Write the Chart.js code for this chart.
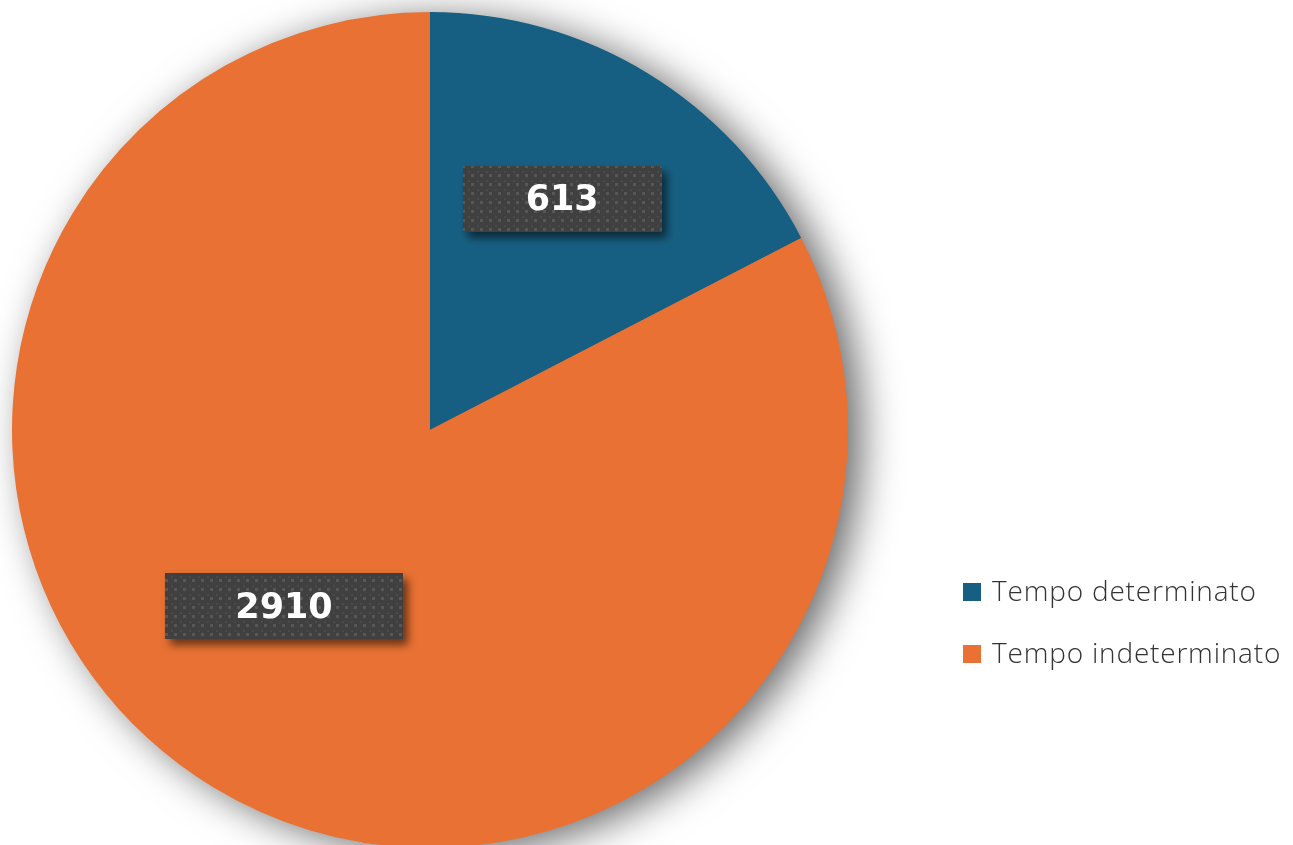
<!DOCTYPE html>
<html>
<head>
<meta charset="utf-8">
<script src="https://cdn.jsdelivr.net/npm/chart.js@4/dist/chart.umd.min.js"></script>
<style>
html,body{margin:0;padding:0;background:#fff;overflow:hidden;}
#wrap{position:absolute;left:0;top:0;width:1293px;height:860px;}
</style>
</head>
<body>
<div id="wrap"><canvas id="c" width="1293" height="860"></canvas></div>
<script>
const categories = ["Tempo determinato", "Tempo indeterminato"];
const values = [613, 2910];
const colors = ["#175f82", "#e87133"];

function makePattern(ctx){
  const p = document.createElement('canvas');
  p.width = 9; p.height = 9;
  const g = p.getContext('2d');
  g.fillStyle = '#404040'; g.fillRect(0,0,9,9);
  g.fillStyle = '#575757'; g.fillRect(3,3,3,3);
  g.fillStyle = '#4a4a4a'; g.fillRect(0,0,2,2);
  return ctx.createPattern(p,'repeat');
}

const pieShadow = {
  id:'pieShadow',
  beforeDatasetsDraw(chart){
    const arc = chart.getDatasetMeta(0).data[0];
    const ctx = chart.ctx;
    ctx.save();
    ctx.shadowColor = 'rgba(0,0,0,0.6)';
    ctx.shadowBlur = 40;
    ctx.shadowOffsetX = 14;
    ctx.shadowOffsetY = 6;
    ctx.fillStyle = '#e87133';
    ctx.beginPath();
    ctx.arc(arc.x, arc.y, arc.outerRadius-1, 0, Math.PI*2);
    ctx.fill();
    ctx.restore();
  }
};

const boxLabels = {
  id:'boxLabels',
  afterDatasetsDraw(chart, args, opts){
    const ctx = chart.ctx;
    const meta = chart.getDatasetMeta(0);
    const pat = makePattern(ctx);
    meta.data.forEach((arc,i)=>{
      const cfg = opts.place[i];
      const mid = (arc.startAngle + arc.endAngle)/2 + cfg.da*Math.PI/180;
      const r = arc.outerRadius*cfg.r;
      const cx = arc.x + Math.cos(mid)*r;
      const cy = arc.y + Math.sin(mid)*r;
      const txt = String(chart.data.datasets[0].data[i]);
      const w = cfg.w, h = 66;
      ctx.save();
      ctx.shadowColor = 'rgba(0,0,0,0.55)';
      ctx.shadowBlur = 8;
      ctx.shadowOffsetX = 5;
      ctx.shadowOffsetY = 6;
      ctx.fillStyle = pat;
      ctx.fillRect(Math.round(cx-w/2), Math.round(cy-h/2), w, h);
      ctx.restore();
      ctx.save();
      ctx.fillStyle = '#ffffff';
      ctx.font = 'bold 35px "DejaVu Sans", sans-serif';
      ctx.textAlign = 'center';
      ctx.textBaseline = 'middle';
      ctx.fillText(txt, cx, cy+2);
      ctx.restore();
    });
  }
};

const sideLegend = {
  id:'sideLegend',
  afterDraw(chart, args, opts){
    const ctx = chart.ctx;
    ctx.save();
    chart.data.labels.forEach((lab,i)=>{
      const y = opts.y + i*opts.gap;
      ctx.fillStyle = chart.data.datasets[0].backgroundColor[i];
      ctx.fillRect(opts.x, y-9, 18, 18);
      ctx.fillStyle = '#333333';
      ctx.font = '300 28px "Open Sans", sans-serif';
      ctx.letterSpacing = '0.8px';
      ctx.textAlign = 'left';
      ctx.textBaseline = 'middle';
      ctx.fillText(lab, opts.x+29, y+1);
    });
    ctx.restore();
  }
};

new Chart(document.getElementById('c'), {
  type:'pie',
  data:{
    labels: categories,
    datasets:[{data: values, backgroundColor: colors, borderWidth:0, hoverOffset:0}]
  },
  options:{
    responsive:false,
    animation:false,
    events:[],
    layout:{padding:{left:12,top:12,right:445,bottom:12}},
    plugins:{
      legend:{display:false},
      tooltip:{enabled:false},
      boxLabels:{place:[{r:0.637,da:-1.56,w:199},{r:0.548,da:8.28,w:238}]},
      sideLegend:{x:963,y:592,gap:62}
    }
  },
  plugins:[pieShadow, boxLabels, sideLegend]
});
</script>
</body>
</html>
